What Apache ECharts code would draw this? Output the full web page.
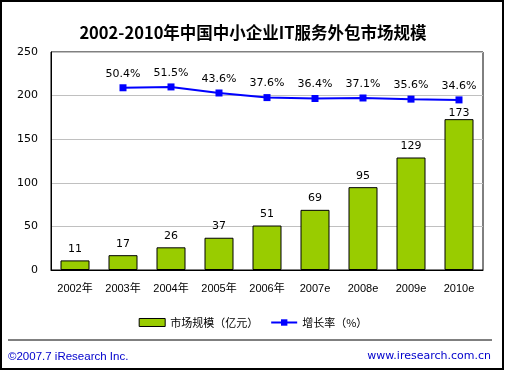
<!DOCTYPE html>
<html>
<head>
<meta charset="utf-8">
<script src="https://cdn.jsdelivr.net/npm/echarts@6/dist/echarts.min.js"></script>
<style>
html,body{margin:0;padding:0;background:#fff;}
#c{width:506px;height:371px;}
</style>
</head>
<body>
<div id="c"></div>
<script>
var categories = ['2002年','2003年','2004年','2005年','2006年','2007e','2008e','2009e','2010e'];
var marketSize = [11,17,26,37,51,69,95,129,173];
var growthRate = [null,50.4,51.5,43.6,37.6,36.4,37.1,35.6,34.6];
var yTicks = [0,50,100,150,200,250];

var FONT = '"DejaVu Sans","Noto Sans CJK SC",sans-serif';
var NARROW = '"Liberation Sans","Noto Sans CJK SC",sans-serif';
var barData = marketSize.map(function(v,i){
  return i === marketSize.length-1 ? {value:v,label:{distance:1}} : v;
});
var chart = echarts.init(document.getElementById('c'), null, {renderer:'canvas'});
chart.setOption({
  animation:false,
  backgroundColor:'#fff',
  title:{
    text:'2002-2010年中国中小企业IT服务外包市场规模',
    left:'center', top:19,
    textStyle:{fontSize:16.5,fontWeight:'bold',color:'#000',fontFamily:'"Noto Sans CJK SC",sans-serif'}
  },
  grid:{left:51,right:23,top:52,bottom:101,show:true,borderColor:'#000',borderWidth:1,backgroundColor:'transparent'},
  legend:{
    top:312,left:'center',itemGap:12,
    textStyle:{fontSize:11,color:'#000',fontFamily:'"Noto Sans CJK SC",sans-serif'},
    data:[
      {name:'市场规模（亿元）',icon:'rect',itemStyle:{color:'#99CC00',borderColor:'#000',borderWidth:1}},
      {name:'增长率（%）'}
    ],
    itemWidth:26,itemHeight:8
  },
  xAxis:{
    type:'category',data:categories,
    axisLine:{show:true,lineStyle:{color:'#000',width:1}},
    axisTick:{show:false},
    axisLabel:{color:'#000',fontSize:11,fontFamily:NARROW,margin:13,interval:0}
  },
  yAxis:[{
    type:'value',min:0,max:250,interval:50,
    axisLine:{show:true,lineStyle:{color:'#000'}},
    axisTick:{show:false},
    axisLabel:{color:'#000',fontSize:11,fontFamily:FONT,margin:13},
    splitLine:{show:true,lineStyle:{color:'#c0c0c0',width:1}}
  },{
    type:'value',min:-187,max:97,show:false,splitLine:{show:false}
  }],
  series:[{
    name:'市场规模（亿元）',type:'bar',data:barData,barWidth:29,
    itemStyle:{color:'#99CC00',borderColor:'#000',borderWidth:1},
    label:{show:true,position:'top',distance:6,color:'#000',fontSize:11,fontFamily:FONT}
  },{
    name:'增长率（%）',type:'line',yAxisIndex:1,data:growthRate,
    symbol:'rect',symbolSize:7,
    lineStyle:{color:'#0000FF',width:2},
    itemStyle:{color:'#0000FF'},
    label:{show:true,position:'top',distance:5,color:'#000',fontSize:11,fontFamily:FONT,
      formatter:function(p){return p.value.toFixed(1)+'%';}}
  }],
  graphic:[
    {type:'rect',shape:{x:1,y:1,width:502,height:368},style:{fill:'none',stroke:'#000',lineWidth:2},silent:true},
    {type:'line',shape:{x1:8,y1:340,x2:492,y2:340},style:{stroke:'#000',lineWidth:1}},
    {type:'text',left:8,top:351,style:{text:'©2007.7 iResearch Inc.',fill:'#0000CC',font:'11.5px '+NARROW}},
    {type:'text',right:15,top:351,style:{text:'www.iresearch.com.cn',fill:'#0000CC',font:'11px '+FONT}}
  ]
});
</script>
</body>
</html>
